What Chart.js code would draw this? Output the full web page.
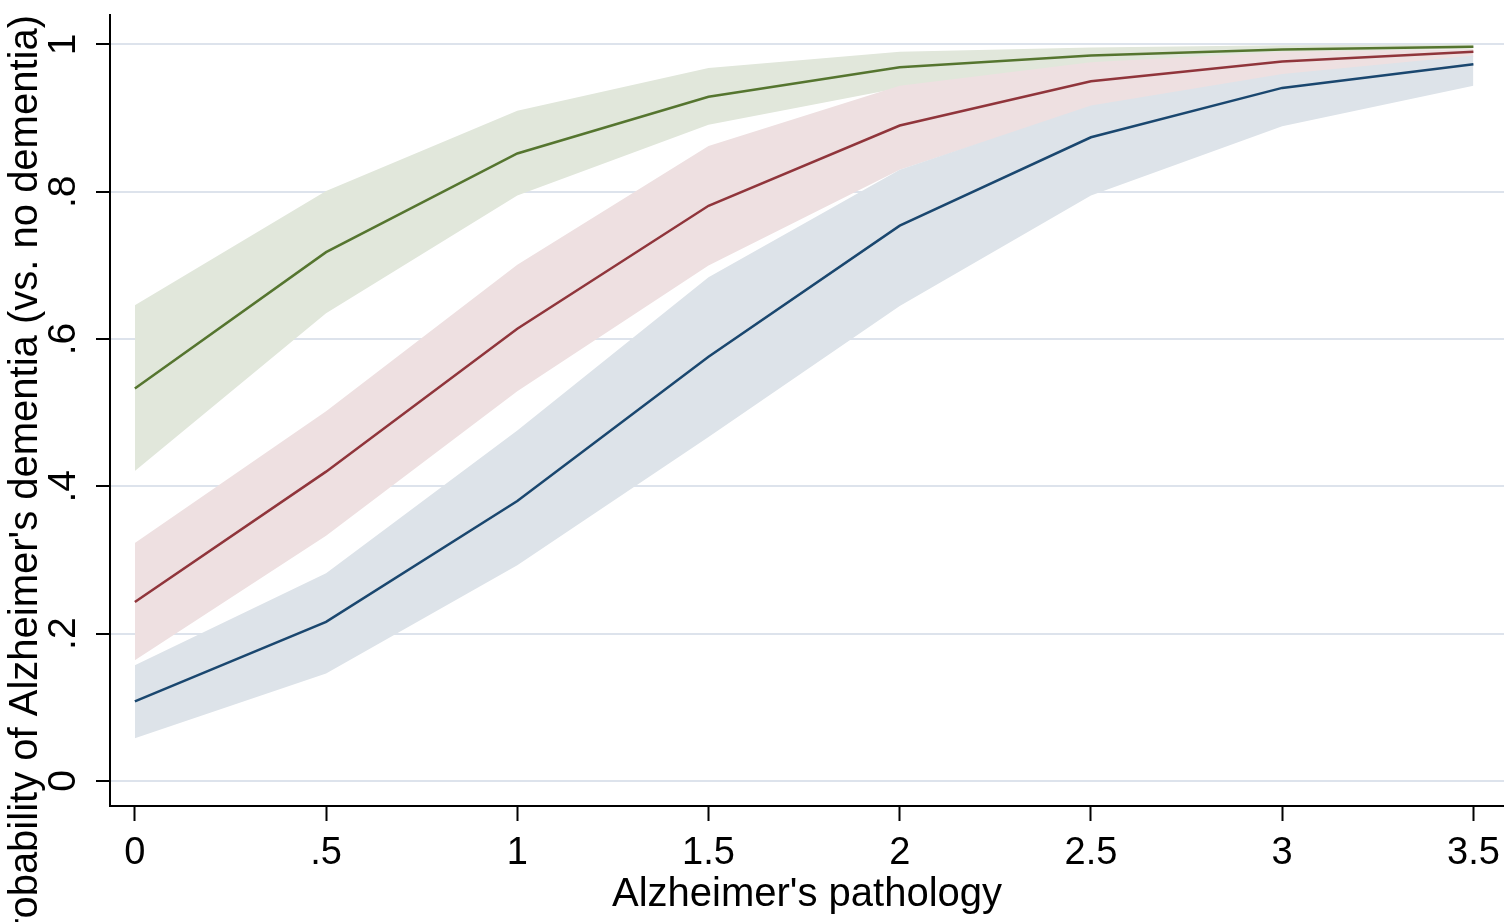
<!DOCTYPE html>
<html>
<head>
<meta charset="utf-8">
<script src="https://cdn.jsdelivr.net/npm/chart.js@4.4.1/dist/chart.umd.min.js"></script>
<style>
  html, body { margin: 0; padding: 0; background: #fff; }
  canvas { display: block; }
</style>
</head>
<body>
<canvas id="margins" width="1504" height="922"></canvas>
<script>
// pathology levels on the x axis
var pathology = [0, 0.5, 1, 1.5, 2, 2.5, 3, 3.5];
var xTicks = [0, 0.5, 1, 1.5, 2, 2.5, 3, 3.5];
var yTicks = [0, 0.2, 0.4, 0.6, 0.8, 1];

// predicted probabilities with 95% CI, one group per line
var greenEst = [0.533, 0.718, 0.852, 0.929, 0.969, 0.985, 0.993, 0.997];
var greenLo  = [0.421, 0.635, 0.795, 0.891, 0.941, 0.974, 0.987, 0.995];
var greenHi  = [0.646, 0.801, 0.910, 0.968, 0.990, 0.996, 0.999, 1.000];

var redEst = [0.243, 0.420, 0.614, 0.781, 0.890, 0.950, 0.977, 0.990];
var redLo  = [0.164, 0.333, 0.529, 0.700, 0.830, 0.915, 0.956, 0.983];
var redHi  = [0.323, 0.502, 0.701, 0.862, 0.944, 0.976, 0.990, 0.994];

var blueEst = [0.108, 0.216, 0.380, 0.576, 0.754, 0.874, 0.941, 0.973];
var blueLo  = [0.058, 0.146, 0.293, 0.467, 0.645, 0.795, 0.889, 0.944];
var blueHi  = [0.157, 0.282, 0.476, 0.684, 0.830, 0.917, 0.960, 0.985];

var yTitle = "Probability of Alzheimer's dementia (vs. no dementia)";
var xTitle = "Alzheimer's pathology";

var FONT = "'Liberation Sans', Arial, Helvetica, sans-serif";

function pts(ys) {
  return ys.map(function (y, i) { return { x: pathology[i], y: y }; });
}

// stata style: drop the leading zero (.5, .2 ...)
function stataNum(v) {
  var s = String(Math.round(v * 100) / 100);
  return s.indexOf('0.') === 0 ? s.slice(1) : s;
}

function line(data, color) {
  return { data: pts(data), borderColor: color, borderWidth: 2.5, fill: false, order: 0 };
}

function band(data, fillColor, target, order) {
  return {
    data: pts(data), borderWidth: 0, borderColor: 'rgba(0,0,0,0)',
    backgroundColor: fillColor, fill: target, order: order
  };
}

// rotated y tick labels and the y title
var leftText = {
  id: 'leftText',
  afterDraw: function (chart) {
    var ctx = chart.ctx;
    var ys = chart.scales.y;
    ctx.save();
    ctx.fillStyle = '#000';
    ctx.font = '39px ' + FONT;
    ctx.textAlign = 'center';
    ctx.textBaseline = 'middle';
    yTicks.forEach(function (v) {
      ctx.save();
      ctx.translate(64, ys.getPixelForValue(v));
      ctx.rotate(-Math.PI / 2);
      ctx.fillText(stataNum(v), 0, 0);
      ctx.restore();
    });
    ctx.font = '40px ' + FONT;
    ctx.textAlign = 'right';
    ctx.textBaseline = 'alphabetic';
    ctx.translate(37, 15);
    ctx.rotate(-Math.PI / 2);
    ctx.fillText(yTitle, 0, 0);
    ctx.restore();
  }
};

Chart.defaults.font.family = FONT;
Chart.defaults.color = '#000';

new Chart(document.getElementById('margins'), {
  type: 'line',
  data: {
    datasets: [
      line(greenEst, 'rgb(85,117,47)'),
      line(redEst, 'rgb(144,53,59)'),
      line(blueEst, 'rgb(26,71,111)'),
      band(blueHi, 'rgb(221,227,233)', 4, 1),
      band(blueLo, 'rgb(221,227,233)', false, 1),
      band(redHi, 'rgb(238,224,225)', 6, 2),
      band(redLo, 'rgb(238,224,225)', false, 2),
      band(greenHi, 'rgb(225,231,219)', 8, 3),
      band(greenLo, 'rgb(225,231,219)', false, 3)
    ]
  },
  options: {
    responsive: false,
    animation: false,
    layout: { padding: { top: 15, left: 0, right: 0, bottom: 0 } },
    elements: { point: { radius: 0 }, line: { tension: 0 } },
    plugins: {
      legend: { display: false },
      tooltip: { enabled: false },
      filler: { drawTime: 'beforeDatasetsDraw' }
    },
    scales: {
      x: {
        type: 'linear',
        min: -0.065,
        max: 3.58,
        afterBuildTicks: function (s) { s.ticks = xTicks.map(function (v) { return { value: v }; }); },
        afterFit: function (s) {
          s.height = 116;
          // plot runs to the right edge, labels may overhang
          s.paddingLeft = 0;
          s.paddingRight = 0;
        },
        ticks: {
          callback: function (v) { return stataNum(v); },
          font: { size: 38 },
          color: '#000',
          padding: 10,
          maxRotation: 0,
          autoSkip: false
        },
        grid: { drawOnChartArea: false, tickLength: 15, tickColor: '#000', tickWidth: 2 },
        border: { color: '#000', width: 2 },
        title: { display: true, text: xTitle, font: { size: 40 }, color: '#000', padding: { top: 0, bottom: 3 } }
      },
      y: {
        min: -0.034,
        max: 1.04,
        afterBuildTicks: function (s) { s.ticks = yTicks.map(function (v) { return { value: v }; }); },
        afterFit: function (s) { s.width = 110; },
        ticks: { display: false },
        grid: { color: '#dde3ec', lineWidth: 2, tickLength: 14, tickColor: '#000', tickWidth: 2 },
        border: { color: '#000', width: 2 }
      }
    }
  },
  plugins: [leftText]
});
</script>
</body>
</html>
